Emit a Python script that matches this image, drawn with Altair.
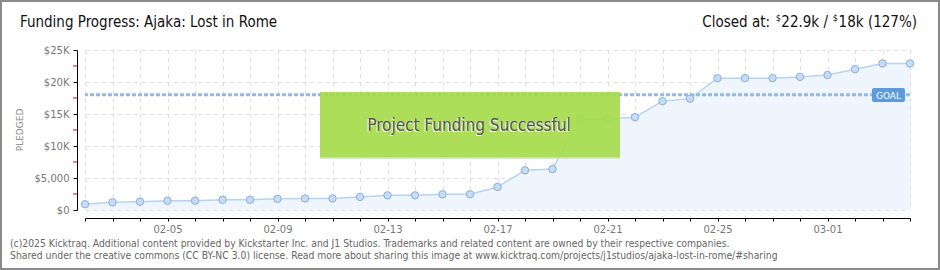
import altair as alt
import pandas as pd

# ---- data ----
dates = [
    "2025-02-02", "2025-02-03", "2025-02-04", "2025-02-05", "2025-02-06", "2025-02-07",
    "2025-02-08", "2025-02-09", "2025-02-10", "2025-02-11", "2025-02-12", "2025-02-13",
    "2025-02-14", "2025-02-15", "2025-02-16", "2025-02-17", "2025-02-18", "2025-02-19",
    "2025-02-20", "2025-02-21", "2025-02-22", "2025-02-23", "2025-02-24", "2025-02-25",
    "2025-02-26", "2025-02-27", "2025-02-28", "2025-03-01", "2025-03-02", "2025-03-03",
    "2025-03-04",
]
pledged = [
    900, 1200, 1300, 1450, 1450, 1600, 1600, 1750, 1800, 1800, 2030, 2290, 2290,
    2450, 2450, 3600, 6200, 6400, 14200, 14200, 14500, 17000, 17400, 20600, 20600,
    20600, 20800, 21100, 22000, 22900, 22900,
]
goal = 18000
x_tick_labels = ["02-05", "02-09", "02-13", "02-17", "02-21", "02-25", "03-01"]
y_tick_values = [0, 5000, 10000, 15000, 20000, 25000]
y_tick_labels = ["$0", "$5,000", "$10K", "$15K", "$20K", "$25K"]
y_minor_ticks = [2500, 7500, 12500, 17500, 22500]

title_text = "Funding Progress: Ajaka: Lost in Rome"
footer1 = ("(c)2025 Kicktraq. Additional content provided by Kickstarter Inc. and J1 Studios. "
           "Trademarks and related content are owned by their respective companies.")
footer2 = ("Shared under the creative commons (CC BY-NC 3.0) license. Read more about sharing "
           "this image at www.kicktraq.com/projects/j1studios/ajaka-lost-in-rome/#sharing")

df = pd.DataFrame({"date": dates, "pledged": pledged})
minor_df = pd.DataFrame({"pledged": y_minor_ticks})
one = pd.DataFrame({"k": [0]})

NARROW = "DejaVu Sans Condensed, sans-serif"
SMALL = "DejaVu Sans, sans-serif"

x_label_expr = ("indexof(" + str(x_tick_labels) + ", utcFormat(datum.value, '%m-%d')) >= 0 ? "
                "utcFormat(datum.value, '%m-%d') : ''")
y_label_expr = (str(y_tick_labels) + "[indexof(" + str(y_tick_values) + ", datum.value)]")

x_axis = alt.Axis(
    title=None, offset=8, tickCount={"interval": "day", "step": 1},
    labelExpr=x_label_expr, domainColor="#000", tickColor="#000", tickSize=3,
    labelColor="#777", labelFont=SMALL, labelFontSize=10, labelPadding=3,
    grid=True, gridColor="#dedede", gridDash=[4, 4], labelOverlap=False,
)
y_axis = alt.Axis(
    title=None, offset=8, values=y_tick_values, labelExpr=y_label_expr,
    domainColor="#000", tickColor="#000", tickSize=4, labelColor="#777",
    labelFont=SMALL, labelFontSize=10, labelPadding=4, labelOverlap=False,
    grid=True, gridColor="#dedede", gridDash=[4, 4],
)
x_scale = alt.Scale(type="utc", nice=False)
y_scale = alt.Scale(domain=[0, 25000], nice=False)

x_enc = alt.X("date:T", scale=x_scale, axis=x_axis)
y_enc = alt.Y("pledged:Q", scale=y_scale, axis=y_axis)

base = alt.Chart(df)
area = base.mark_area(color="#eef5fd", opacity=1).encode(x=x_enc, y=y_enc)
line = base.mark_line(color="#b6d4f2", strokeWidth=1.5).encode(x=x_enc, y=y_enc)
points = base.mark_circle(size=55, color="#c4dcf6", opacity=1, stroke="#8eaed6",
                          strokeWidth=1).encode(x=x_enc, y=y_enc)

goal_line = alt.Chart(one).mark_rule(color="#93b9e4", strokeWidth=3, strokeDash=[4, 2]).encode(
    y=alt.YDatum(goal, scale=y_scale, axis=y_axis))

minor = alt.Chart(minor_df).mark_rule(color="#e00000", strokeWidth=1).encode(
    y=y_enc, x=alt.value(-12), x2=alt.value(-8))

# success banner
banner = alt.Chart(one).mark_rect(color="#a6db4e", opacity=0.93).encode(
    x=alt.value(235), x2=alt.value(535), y=alt.value(42), y2=alt.value(108))
banner_edge = alt.Chart(one).mark_rule(color="#cdeaa0", strokeWidth=1.5).encode(
    x=alt.value(235), x2=alt.value(535), y=alt.value(108))
banner_shadow = alt.Chart(one).mark_text(text="Project Funding Successful", font=NARROW,
                                         fontSize=17, color="#ffffff", align="center",
                                         baseline="middle").encode(
    x=alt.value(383), y=alt.value(77))
banner_text = alt.Chart(one).mark_text(text="Project Funding Successful", font=NARROW,
                                       fontSize=17, color="#555555", align="center",
                                       baseline="middle").encode(
    x=alt.value(384), y=alt.value(76))

# goal badge
badge = alt.Chart(one).mark_rect(color="#5b9bdc", cornerRadius=2).encode(
    x=alt.value(787), x2=alt.value(820), y=alt.value(38), y2=alt.value(52))
badge_text = alt.Chart(one).mark_text(text="GOAL", font=SMALL, fontSize=9, color="#ffffff",
                                      align="center", baseline="middle").encode(
    x=alt.value(803.5), y=alt.value(45.5))


def txt(s, x, y, size, color, font=NARROW, align="left", baseline="middle", angle=0):
    kw = dict(text=s, font=font, fontSize=size, color=color, align=align, baseline=baseline)
    if angle:
        kw["angle"] = angle
    return alt.Chart(one).mark_text(**kw).encode(x=alt.value(x), y=alt.value(y))


title = txt(title_text, -65, -28, 15, "#111111")
closed1 = txt("Closed at:", 685, -28, 15, "#111111", align="right")
dollar1 = txt("$", 696, -32, 9, "#111111", align="right")
closed2 = txt("22.9k /", 743, -28, 15, "#111111", align="right")
dollar2 = txt("$", 753, -32, 9, "#111111", align="right")
closed3 = txt("18k (127%)", 832, -28, 15, "#111111", align="right")
pledged_lbl = txt("PLEDGED", -65, 80, 9, "#888888", font=SMALL, align="center", angle=270)
foot1 = txt(footer1, -75, 194, 10.3, "#666666")
foot2 = txt(footer2, -75, 206, 10.3, "#666666")

frame = alt.Chart(one).mark_rect(fill=None, stroke="#8a8a8a", strokeWidth=2).encode(
    x=alt.value(-84), x2=alt.value(854), y=alt.value(-49), y2=alt.value(219))

chart = alt.layer(
    area, line, goal_line, points, minor, banner, banner_edge, banner_shadow, banner_text,
    badge, badge_text, title, closed1, dollar1, closed2, dollar2, closed3, pledged_lbl,
    foot1, foot2, frame,
).properties(
    width=825, height=160,
    autosize=alt.AutoSizeParams(type="none"),
    padding={"left": 85, "top": 50, "right": 30, "bottom": 60},
    background="#ffffff",
).configure_view(stroke=None)

chart.save("out.html", embed_options={"renderer": "svg", "actions": False})
